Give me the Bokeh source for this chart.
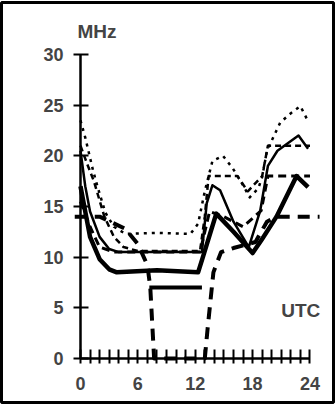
from bokeh.plotting import figure
from bokeh.models import LinearAxis, FixedTicker, Label, Range1d
from bokeh.embed import file_html
from bokeh.resources import INLINE

# ---- data (UTC hour, MHz) ----
x_ticks = list(range(0, 25))
x_tick_labels = {0: "0", 6: "6", 12: "12", 18: "18", 24: "24"}
y_ticks = [0, 5, 10, 15, 20, 25, 30]

dotted_h = [0, 0.5, 1.3, 1.8, 2.6, 3.5, 4.7, 8.1, 11.5, 12.3, 13, 13.8, 14.9, 15.9, 16.7, 17.7, 18.6, 19, 19.5, 20.9, 22, 23, 23.7]
dotted_v = [23.5, 21.8, 18.6, 16.9, 14.4, 13, 12.3, 12.4, 12.3, 13.3, 16.5, 19.5, 20, 18.8, 17.6, 15.9, 16.8, 17.9, 20.5, 23.3, 24.2, 24.9, 23.6]

thin_h = [0, 0.5, 1, 2, 3, 4, 8, 12.7, 13.2, 13.8, 14.6, 16, 17.6, 18.8, 19.6, 20.6, 22.8, 23.8]
thin_v = [20.5, 17, 14.5, 12, 10.8, 10.5, 10.5, 10.5, 15.3, 17.1, 16.6, 13.5, 11, 14.6, 19, 20.5, 22, 20.7]

thick_h = [0, 0.5, 1, 2, 3, 3.8, 8, 12.3, 12.8, 14.2, 16, 18, 19, 20.5, 22.6, 23.8]
thick_v = [17, 14.5, 12, 9.8, 8.8, 8.5, 8.7, 8.5, 10, 14.3, 12.5, 10.4, 11.8, 14, 18, 16.9]

tdash_h = [-0.6, 2, 4.7, 6, 7, 7.3, 7.7, 13, 13.3, 13.9, 14.7, 16, 18.3, 19.5, 20.5, 25]
tdash_v = [14, 14, 12.8, 11.3, 9.2, 7, 0, 0, 3, 8.5, 10.5, 10.9, 11.5, 13.5, 14, 14]

seg_h = [7.2, 12.7]
seg_v = [7, 7]

dashA_h = [0, 0.7, 1.4, 2.5, 3.5, 4.5, 6, 12.5, 13, 13.4, 16.4, 17.5, 19, 19.6, 24]
dashA_v = [21, 19.2, 17.5, 14, 12, 11, 10.6, 10.6, 14, 18, 18, 16.5, 18, 21, 21]

dashB_h = [0, 1, 2, 3.5, 12.5, 13.5, 15, 17, 18.9, 19.6, 24]
dashB_v = [15.5, 13, 11, 10.5, 10.5, 14.5, 14, 13, 14.6, 18, 18]

FONT = "Liberation Sans"

p = figure(width=335, height=410, x_range=Range1d(-8.26, 26.46), y_range=Range1d(-4.342, 35.13),
           output_backend="svg", toolbar_location=None,
           x_axis_location=None, y_axis_location=None,
           min_border_left=1, min_border_right=2, min_border_top=2, min_border_bottom=8)
p.grid.visible = False
p.outline_line_color = "black"
p.outline_line_width = 3
p.background_fill_color = "white"
p.border_fill_color = "white"

xaxis = LinearAxis(fixed_location=0, bounds=(0, 24), ticker=FixedTicker(ticks=x_ticks),
                   major_label_overrides={h: x_tick_labels.get(h, "") for h in x_ticks})
xaxis.axis_line_width = 2.5
xaxis.major_tick_line_width = 2
xaxis.major_tick_in = 9
xaxis.major_tick_out = 5
xaxis.minor_tick_line_color = None
xaxis.major_label_standoff = 14
xaxis.major_label_text_font = FONT
xaxis.major_label_text_font_size = "18px"
xaxis.major_label_text_font_style = "bold"
p.add_layout(xaxis, "below")

yaxis = LinearAxis(fixed_location=0, bounds=(0, 30), ticker=FixedTicker(ticks=y_ticks))
yaxis.axis_line_width = 2.5
yaxis.major_tick_line_width = 2
yaxis.major_tick_in = 8
yaxis.major_tick_out = 7
yaxis.minor_tick_line_color = None
yaxis.major_label_standoff = 10
yaxis.major_label_text_font = FONT
yaxis.major_label_text_font_size = "18px"
yaxis.major_label_text_font_style = "bold"
p.add_layout(yaxis, "left")

kw = dict(line_color="black", line_join="round")
p.line(dotted_h, dotted_v, line_width=2.5, line_dash="3 5", **kw)
p.line(dashA_h, dashA_v, line_width=2.5, line_dash="6 4", **kw)
p.line(dashB_h, dashB_v, line_width=3, line_dash="8 5", **kw)
p.line(thin_h, thin_v, line_width=2.5, **kw)
p.line(thick_h, thick_v, line_width=4.5, **kw)
p.line(tdash_h, tdash_v, line_width=4, line_dash="12 8", **kw)
p.line(seg_h, seg_v, line_width=4, **kw)

p.add_layout(Label(x=-0.31, y=32.3, text="MHz", text_font=FONT, text_font_size="19px",
                   text_font_style="bold", text_baseline="alphabetic", text_align="left"))
p.add_layout(Label(x=21.0, y=4.75, text="UTC", text_font=FONT, text_font_size="19px",
                   text_font_style="bold", text_baseline="alphabetic", text_align="left"))

open("out.html", "w").write(file_html(p, INLINE))
